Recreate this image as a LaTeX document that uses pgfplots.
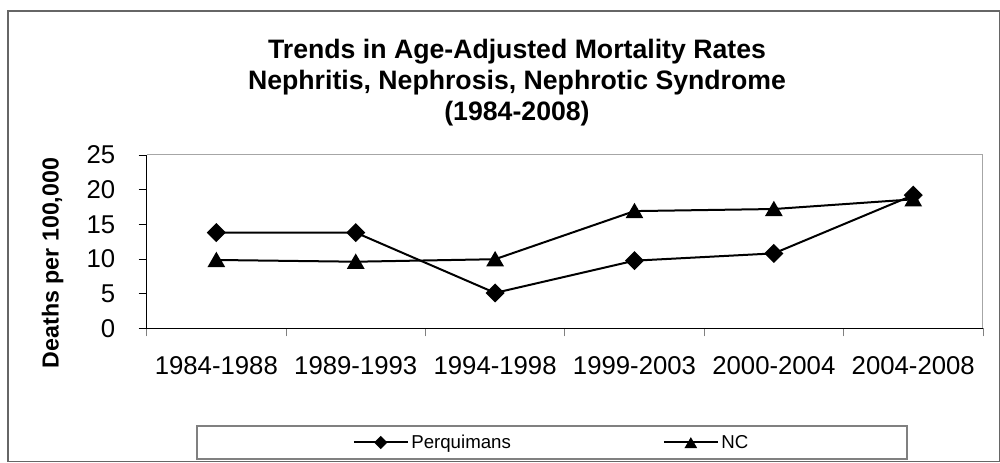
\documentclass[border=0pt]{standalone}
\usepackage{pgfplots}
\pgfplotsset{compat=1.18}
\usepackage{fontspec}
\setmainfont{Liberation Sans}
\begin{document}
\begin{tikzpicture}
\begin{axis}[
  at={(110pt,100.3pt)}, anchor=south west,
  scale only axis, width=627.2pt, height=130pt,
  xmin=-0.5, xmax=5.5, ymin=0, ymax=25,
  axis x line*=bottom, axis y line*=left,
  axis line style={black, line width=0.8pt},
  xtick={-0.5,0.5,1.5,2.5,3.5,4.5,5.5},
  x tick label as interval,
  xticklabels={1984-1988,1989-1993,1994-1998,1999-2003,2000-2004,2004-2008},
  ytick={0,5,10,15,20,25},
  tick align=outside, major tick length=6pt,
  tick style={black, line width=0.6pt},
  x tick style={gray},
  ticklabel style={font=\fontsize{19.3}{22}\selectfont},
  xticklabel style={yshift=-12pt},
  yticklabel style={xshift=-14pt},
  /pgf/number format/assume math mode=true,
  legend style={draw=none, fill=none, at={(axis description cs:0.4846,-0.659)}, anchor=center,
    font=\fontsize{14}{16}\selectfont, legend columns=2,
    /tikz/every even column/.append style={column sep=112pt}},
  legend image code/.code={\draw[mark repeat=2,mark phase=2] plot coordinates {(0cm,0cm) (0.71cm,0cm) (1.42cm,0cm)};},
  legend image post style={/tikz/every mark/.append style={scale=0.65}},
  clip=false,
]
\draw[gray!70, line width=0.8pt] (rel axis cs:0,1) -- (rel axis cs:1,1) -- (rel axis cs:1,0);
\addplot[black, line width=1.5pt, mark=square*, mark size=4.3pt, mark options={rotate=45, solid}] coordinates {
  (0,13.8) (1,13.8) (2,5.1) (3,9.75) (4,10.8) (5,19.2)};
\addlegendentry{Perquimans}
\addplot[black, line width=1.5pt, mark=triangle*, mark size=6.2pt, mark options={yshift=-1.5pt, solid}] coordinates {
  (0,9.85) (1,9.6) (2,9.96) (3,16.9) (4,17.2) (5,18.6)};
\addlegendentry{NC}
\end{axis}
\node[font=\fontsize{20}{23.25}\selectfont\bfseries, align=center] at (387.75pt,284.5pt)
  {Trends in Age-Adjusted Mortality Rates\\Nephritis, Nephrosis, Nephrotic Syndrome\\(1984-2008)};
\node[rotate=90, font=\fontsize{17.4}{20}\selectfont\bfseries] at (39.4pt,149.3pt) {Deaths per 100,000};
\draw[gray, line width=0.8pt] (147.75pt,2.25pt) rectangle (680.25pt,27pt);
\draw[gray!80!black, line width=0.9pt] (6pt,0.4pt) rectangle (749.6pt,338.25pt);
\pgfresetboundingbox
\path[use as bounding box] (0,0) rectangle (750pt,346.5pt);
\end{tikzpicture}
\end{document}
